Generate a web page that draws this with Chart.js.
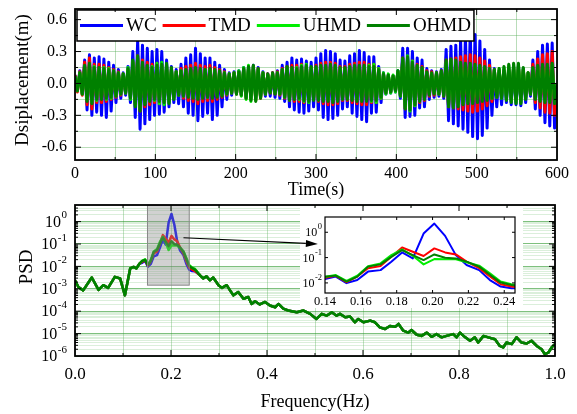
<!DOCTYPE html>
<html><head><meta charset="utf-8">
<script src="https://cdn.jsdelivr.net/npm/chart.js@4.4.1/dist/chart.umd.min.js"></script>
<style>
html,body{margin:0;padding:0;background:#fff;}
body{position:relative;width:577px;height:414px;overflow:hidden;}
canvas{position:absolute;display:block;}
</style></head><body>
<canvas id="top" width="577" height="200" style="left:0;top:0;width:577px;height:200px"></canvas>
<canvas id="psd" width="577" height="214" style="left:0;top:200px;width:577px;height:214px"></canvas>
<canvas id="inset" width="223" height="101" style="left:300px;top:207px;width:223px;height:101px"></canvas>
<script>
const SERIF = '"Liberation Serif","Times New Roman",serif';
Chart.defaults.font.family = SERIF;
Chart.defaults.color = '#000';

// ---------------- series ----------------
const seriesNames = ['WC', 'TMD', 'UHMD', 'OHMD'];
const seriesColors = ['#0000ff', '#ff0000', '#00ee00', '#008000'];

// ---------------- top chart: displacement time history ----------------
const cyclePeriod = 6;          // s, one oscillation per entry below
const timeEnd = 600;
const timeTicks = [0, 50, 100, 150, 200, 250, 300, 350, 400, 450, 500, 550, 600];
const timeLabelStep = 100;
const dispTicks = [-0.6, -0.45, -0.3, -0.15, 0, 0.15, 0.3, 0.45, 0.6];
const dispLabelStep = 0.3;

// positive peaks / negative trough magnitudes per cycle (m)
const wcUp = [
 .08,.12,.22,.27,.24,.25,.23,.20,.17,.13,
 .10,.16,.30,.40,.36,.33,.30,.32,.30,.22,
 .16,.13,.18,.24,.27,.33,.28,.24,.24,.20,
 .17,.13,.10,.11,.12,.15,.16,.17,.15,.11,
 .09,.10,.12,.17,.20,.24,.22,.23,.21,.20,
 .24,.28,.31,.30,.28,.22,.21,.26,.28,.31,
 .29,.25,.25,.16,.10,.08,.07,.12,.33,.33,
 .30,.24,.22,.14,.12,.11,.13,.32,.35,.36,
 .40,.44,.48,.46,.40,.32,.22,.14,.12,.12,
 .15,.16,.17,.14,.10,.22,.30,.36,.37,.38];
const wcDown = [
 .07,.10,.25,.30,.27,.30,.32,.26,.18,.14,
 .11,.18,.32,.43,.38,.34,.30,.29,.27,.22,
 .18,.19,.22,.28,.30,.35,.31,.28,.34,.30,
 .22,.15,.11,.10,.11,.13,.14,.14,.13,.12,
 .12,.13,.14,.17,.22,.25,.27,.28,.26,.22,
 .25,.32,.34,.33,.30,.24,.22,.28,.31,.34,
 .36,.28,.27,.18,.10,.09,.08,.14,.32,.31,
 .30,.23,.22,.15,.13,.12,.14,.35,.38,.40,
 .43,.46,.50,.52,.49,.42,.30,.22,.20,.18,
 .20,.20,.21,.18,.12,.24,.30,.37,.40,.42];
const tmdAmp = [
 .08,.11,.20,.24,.18,.18,.17,.15,.13,.11,
 .09,.13,.20,.26,.22,.20,.18,.19,.18,.16,
 .13,.11,.14,.16,.17,.19,.17,.16,.17,.15,
 .13,.11,.09,.10,.11,.14,.15,.16,.14,.10,
 .09,.10,.11,.14,.16,.17,.17,.18,.16,.15,
 .17,.19,.20,.20,.19,.16,.16,.18,.19,.20,
 .20,.18,.18,.14,.09,.08,.07,.11,.24,.23,
 .21,.18,.16,.12,.11,.10,.12,.22,.23,.24,
 .25,.26,.27,.26,.24,.21,.17,.13,.12,.12,
 .14,.15,.16,.13,.10,.18,.23,.27,.28,.30];
const uhmdAmp = [
 .07,.10,.16,.18,.16,.14,.15,.14,.12,.10,
 .09,.15,.21,.24,.19,.16,.16,.19,.20,.18,
 .14,.11,.12,.12,.13,.14,.13,.13,.13,.12,
 .11,.10,.09,.10,.12,.15,.17,.16,.13,.10,
 .08,.09,.10,.13,.15,.14,.15,.17,.18,.15,
 .15,.16,.16,.17,.16,.14,.14,.15,.16,.16,
 .16,.17,.18,.14,.10,.09,.08,.12,.23,.26,
 .21,.16,.14,.10,.09,.10,.11,.20,.22,.21,
 .19,.18,.18,.17,.16,.15,.14,.13,.14,.15,
 .17,.18,.18,.14,.10,.14,.16,.17,.17,.18];
const ohmdAmp = [
 .07,.10,.17,.19,.15,.15,.14,.13,.12,.10,
 .09,.14,.22,.26,.20,.17,.15,.17,.18,.19,
 .15,.11,.12,.13,.14,.15,.14,.13,.14,.13,
 .12,.10,.09,.10,.11,.14,.16,.17,.14,.10,
 .09,.10,.10,.13,.16,.15,.14,.16,.17,.16,
 .16,.17,.17,.18,.17,.15,.15,.16,.17,.17,
 .17,.16,.16,.13,.09,.08,.07,.12,.24,.25,
 .20,.17,.15,.11,.10,.10,.12,.22,.23,.22,
 .20,.19,.19,.18,.17,.16,.14,.13,.14,.16,
 .18,.19,.19,.15,.10,.15,.17,.18,.18,.19];

// ---------------- PSD ----------------
const freqLow = [0, 0.007, 0.017, 0.035, 0.049, 0.059, 0.069, 0.083, 0.094, 0.104, 0.115, 0.122, 0.128, 0.134];
const psdLow  = [2.4e-3, 1.2e-3, 8.5e-4, 3.2e-3, 9e-4, 1.45e-3, 1.1e-3, 3.4e-3, 2.9e-3, 5.1e-4, 8.1e-3, 9.5e-3, 8.1e-3, 1.3e-2];
const freqPeak = [0.140,0.146,0.152,0.158,0.164,0.171,0.177,0.183,0.189,0.195,0.201,0.207,0.213,0.219,0.226,0.232,0.238,0.244,0.250];
const wcPeak   = [1.44e-2,1.77e-2,9.8e-3,1.3e-2,2.8e-2,3.2e-2,6.9e-2,0.16,9.3e-2,0.89,2.2,0.72,0.125,5.1e-2,3.2e-2,1.3e-2,7.2e-3,6.2e-3,6e-3];
const tmdPeak  = [1.6e-2,1.9e-2,1.07e-2,1.78e-2,3.8e-2,4.7e-2,0.107,0.25,0.17,0.115,0.23,0.16,0.133,6.9e-2,3.8e-2,1.8e-2,8.9e-3,7.2e-3,6.2e-3];
const uhmdPeak = [1.77e-2,2.05e-2,1.2e-2,1.94e-2,4.6e-2,5.9e-2,0.125,0.21,0.118,5.4e-2,8.7e-2,8.5e-2,8.5e-2,6.5e-2,4.8e-2,2.4e-2,1.13e-2,8.9e-3,7.7e-3];
const ohmdPeak = [1.77e-2,1.94e-2,1.13e-2,1.77e-2,4.4e-2,5.4e-2,0.107,0.196,0.125,8e-2,0.133,9.8e-2,9.3e-2,6.9e-2,4.4e-2,2.1e-2,1.03e-2,8.3e-3,7.2e-3];
const freqHigh = [0.26,0.267,0.274,0.281,0.288,0.299,0.306,0.316,0.323,0.33,0.34,0.351,0.361,0.368,0.375,0.385,0.396,0.406,0.417,0.424,0.434,0.444,0.462,0.476,0.49,0.503,0.514,0.524,0.535,0.545,0.552,0.563,0.573,0.583,0.59,0.601,0.615,0.625,0.635,0.646,0.656,0.667,0.674,0.684,0.694,0.701,0.712,0.722,0.733,0.743,0.753,0.764,0.774,0.788,0.795,0.802,0.813,0.823,0.833,0.84,0.851,0.861,0.875,0.885,0.892,0.899,0.91,0.92,0.93,0.941,0.951,0.962,0.972,0.979,0.986,0.993,1.0];
const psdHigh  = [4.1e-3,2.9e-3,3.6e-3,2.4e-3,3.2e-3,1.45e-3,1.1e-3,1.45e-3,8.5e-4,5.1e-4,7.2e-4,3.6e-4,4.3e-4,2.1e-4,2.8e-4,2e-4,2.6e-4,1.8e-4,1.5e-4,2.1e-4,1.3e-4,1.07e-4,8.9e-5,1.07e-4,7.6e-5,4.5e-5,7.6e-5,6.3e-5,8.9e-5,6.3e-5,7.6e-5,5.4e-5,5.8e-5,3.2e-5,4.5e-5,3.2e-5,3.8e-5,3.2e-5,1.9e-5,1.6e-5,2.2e-5,2e-5,2.7e-5,1.35e-5,1.1e-5,1.45e-5,8.9e-6,7.9e-6,1.1e-5,7.2e-6,9.5e-6,6.8e-6,7.9e-6,9.5e-6,6.8e-6,1.1e-5,6.8e-6,4.8e-6,6.8e-6,4e-6,7.9e-6,6.8e-6,5.6e-6,2.8e-6,2.4e-6,4e-6,3.4e-6,6.8e-6,4e-6,3.6e-6,4.8e-6,2.8e-6,2e-6,1.2e-6,1.4e-6,2.4e-6,3.4e-6];

const freqTicks = [0,0.1,0.2,0.3,0.4,0.5,0.6,0.7,0.8,0.9,1.0];
const freqLabelStep = 0.2;
const psdDecades = [-6,-5,-4,-3,-2,-1,0];
const psdMin = 1e-6, psdMax = 5.5;
const insetFreqTicks = [0.14,0.16,0.18,0.20,0.22,0.24];
const insetDecades = [-2,-1,0];
const insetFreqMin = 0.14, insetFreqMax = 0.246;
const insetPsdMin = 0.004, insetPsdMax = 4;
const zoomBand = {f0: 0.151, f1: 0.238, p0: 1.45e-3, p1: 5.3};
const arrowFrom = {f: 0.226, p: 0.19};
const arrowTo = {f: 0.506, p: 0.1};

// ---------------- builders ----------------
function isMultiple(v, step) { const r = v / step; return Math.abs(r - Math.round(r)) < 1e-6; }
function oscillation(up, down) {
  const pts = [];
  up.forEach((u, i) => {
    pts.push({x: i * cyclePeriod, y: u});
    pts.push({x: i * cyclePeriod + cyclePeriod / 2, y: -down[i]});
  });
  pts.push({x: timeEnd, y: 0});
  return pts;
}
const dispData = [oscillation(wcUp, wcDown), oscillation(tmdAmp, tmdAmp), oscillation(uhmdAmp, uhmdAmp), oscillation(ohmdAmp, ohmdAmp)];
const psdFreq = freqLow.concat(freqPeak, freqHigh);
const psdValues = [wcPeak, tmdPeak, uhmdPeak, ohmdPeak].map(pk => psdLow.concat(pk, psdHigh));
const psdData = psdValues.map(vals => vals.map((v, i) => ({x: psdFreq[i], y: v})));
function logTicks(decades, max) {
  const out = [];
  decades.forEach(k => { for (let m = 1; m <= 9; m++) { const v = Number((m * Math.pow(10, k)).toPrecision(3)); if (v <= max) out.push(v); } });
  return out;
}
function isDecade(v) { const l = Math.log10(v); return Math.abs(l - Math.round(l)) < 1e-6; }

// ---------------- plugins ----------------
function frameAndTicks(cfg) {
  return { id: 'frameTicks', afterDraw(chart) {
    const ctx = chart.ctx, a = chart.chartArea, xs = chart.scales.x, ys = chart.scales.y;
    ctx.save();
    ctx.strokeStyle = '#000'; ctx.lineWidth = 1;
    ctx.beginPath();
    xs.ticks.forEach(t => {
      const L = cfg.xMajor(t.value) ? cfg.major : cfg.minor; if (!L) return;
      const p = xs.getPixelForValue(t.value); if (p <= a.left + 1 || p >= a.right - 1) return;
      ctx.moveTo(p, a.bottom); ctx.lineTo(p, a.bottom - L);
      ctx.moveTo(p, a.top); ctx.lineTo(p, a.top + L);
    });
    ys.ticks.forEach(t => {
      const L = cfg.yMajor(t.value) ? cfg.major : cfg.minor; if (!L) return;
      const p = ys.getPixelForValue(t.value); if (p <= a.top + 1 || p >= a.bottom - 1) return;
      ctx.moveTo(a.left, p); ctx.lineTo(a.left + L, p);
      ctx.moveTo(a.right, p); ctx.lineTo(a.right - L, p);
    });
    ctx.stroke();
    ctx.lineWidth = cfg.frame;
    ctx.strokeRect(a.left, a.top, a.right - a.left, a.bottom - a.top);
    ctx.fillStyle = '#000';
    if (cfg.log) {
      const L = cfg.log;
      L.exps.forEach(k => {
        const p = ys.getPixelForValue(Math.pow(10, k));
        const e = String(k);
        ctx.font = L.expSize + 'px ' + SERIF; const ew = ctx.measureText(e).width;
        ctx.font = L.baseSize + 'px ' + SERIF; const bw = ctx.measureText('10').width;
        const r = a.left - L.gap;
        ctx.textAlign = 'left'; ctx.textBaseline = 'middle';
        ctx.fillText('10', r - ew - bw - 0.5, p + L.baseDy);
        ctx.font = L.expSize + 'px ' + SERIF;
        ctx.fillText(e, r - ew, p - L.rise);
      });
    }
    (cfg.titles || []).forEach(T => {
      ctx.save(); ctx.translate(T.x, T.y); if (T.rot) ctx.rotate(T.rot);
      ctx.font = T.size + 'px ' + SERIF; ctx.textAlign = 'center'; ctx.textBaseline = 'middle';
      ctx.fillText(T.text, 0, 0); ctx.restore();
    });
    ctx.restore();
  }};
}
function boxLegend(cfg) {
  return { id: 'boxLegend', afterDatasetsDraw(chart) {
    const ctx = chart.ctx; ctx.save();
    ctx.font = cfg.size + 'px ' + SERIF;
    let x = cfg.left + cfg.pad; const items = [];
    seriesNames.forEach((n, i) => { const tw = ctx.measureText(n).width; items.push({n, i, x, tw}); x += cfg.line + cfg.gap1 + tw + cfg.gap2; });
    const right = x - cfg.gap2 + cfg.pad;
    ctx.fillStyle = '#fff'; ctx.fillRect(cfg.left, cfg.top, right - cfg.left, cfg.h);
    ctx.lineWidth = 1.5; ctx.strokeStyle = '#000'; ctx.strokeRect(cfg.left, cfg.top, right - cfg.left, cfg.h);
    const ym = cfg.top + cfg.h / 2;
    items.forEach(it => {
      ctx.strokeStyle = seriesColors[it.i]; ctx.lineWidth = 3;
      ctx.beginPath(); ctx.moveTo(it.x, ym); ctx.lineTo(it.x + cfg.line, ym); ctx.stroke();
      ctx.fillStyle = '#000'; ctx.textAlign = 'left'; ctx.textBaseline = 'middle';
      ctx.fillText(it.n, it.x + cfg.line + cfg.gap1, ym + 1);
    });
    ctx.restore();
  }};
}
function psdOverlay(cfg) {
  return { id: 'psdOverlay', afterDatasetsDraw(chart) {
    const ctx = chart.ctx, xs = chart.scales.x, ys = chart.scales.y;
    ctx.save();
    const x0 = xs.getPixelForValue(zoomBand.f0), x1 = xs.getPixelForValue(zoomBand.f1);
    const y0 = ys.getPixelForValue(zoomBand.p0), y1 = Math.max(ys.getPixelForValue(zoomBand.p1), chart.chartArea.top);
    ctx.fillStyle = 'rgba(140,140,140,0.4)'; ctx.fillRect(x0, y1, x1 - x0, y0 - y1);
    ctx.strokeStyle = '#888'; ctx.lineWidth = 1; ctx.strokeRect(x0, y1, x1 - x0, y0 - y1);
    const b = cfg.backdrop;
    ctx.fillStyle = '#fff'; ctx.fillRect(b.x, b.y, b.w, b.h);
    const ax0 = xs.getPixelForValue(arrowFrom.f), ay0 = ys.getPixelForValue(arrowFrom.p);
    const ax1 = xs.getPixelForValue(arrowTo.f), ay1 = ys.getPixelForValue(arrowTo.p);
    const ang = Math.atan2(ay1 - ay0, ax1 - ax0), hl = 12, hw = 3.5;
    const bx = ax1 - hl * Math.cos(ang), by = ay1 - hl * Math.sin(ang);
    ctx.strokeStyle = '#000'; ctx.lineWidth = 1.2;
    ctx.beginPath(); ctx.moveTo(ax0, ay0); ctx.lineTo(bx, by); ctx.stroke();
    ctx.fillStyle = '#000'; ctx.beginPath();
    ctx.moveTo(ax1, ay1);
    ctx.lineTo(bx + hw * Math.sin(ang), by - hw * Math.cos(ang));
    ctx.lineTo(bx - hw * Math.sin(ang), by + hw * Math.cos(ang));
    ctx.closePath(); ctx.fill();
    ctx.restore();
  }};
}

const noPad = s => { s.paddingLeft = 0; s.paddingRight = 0; s.paddingTop = 0; s.paddingBottom = 0; };
const commonOpts = { responsive: false, animation: false, events: [], maintainAspectRatio: false };

// ---------------- top chart ----------------
new Chart(document.getElementById('top'), {
  type: 'line',
  data: { datasets: seriesNames.map((n, i) => ({
    label: n, data: dispData[i], borderColor: seriesColors[i], backgroundColor: seriesColors[i],
    borderWidth: 3, pointRadius: 0, tension: 0, order: 4 - i, borderJoinStyle: 'round' })) },
  options: Object.assign({}, commonOpts, {
    layout: { padding: { left: 0, right: 20, top: 9, bottom: 0 } },
    plugins: { legend: { display: false }, tooltip: { enabled: false } },
    scales: {
      x: { type: 'linear', min: 0, max: timeEnd,
        afterBuildTicks: s => { s.ticks = timeTicks.map(v => ({value: v})); },
        afterFit: s => { s.height = 40; noPad(s); },
        ticks: { autoSkip: false, maxRotation: 0, padding: 4, font: { size: 16 },
          callback: v => isMultiple(v, timeLabelStep) ? String(v) : '' },
        grid: { color: 'rgba(80,170,80,0.4)', drawTicks: false }, border: { display: false } },
      y: { type: 'linear', min: -0.72, max: 0.7,
        afterBuildTicks: s => { s.ticks = dispTicks.map(v => ({value: v})); },
        afterFit: s => { s.width = 75; noPad(s); },
        ticks: { autoSkip: false, padding: 8, font: { size: 16 },
          callback: v => isMultiple(v, dispLabelStep) ? v.toFixed(1) : '' },
        grid: { color: 'rgba(80,170,80,0.4)', drawTicks: false }, border: { display: false } }
    }
  }),
  plugins: [
    boxLegend({ left: 77, top: 10, h: 31, pad: 3, line: 43, gap1: 3, gap2: 6, size: 19 }),
    frameAndTicks({ major: 6, minor: 3, frame: 1.8,
      xMajor: v => isMultiple(v, timeLabelStep), yMajor: v => isMultiple(v, dispLabelStep),
      titles: [ { text: 'Dsiplacement(m)', x: 23, y: 80, rot: -Math.PI / 2, size: 19 },
                { text: 'Time(s)', x: 316, y: 190, size: 18 } ] })
  ]
});

// ---------------- PSD chart ----------------
const psdTickVals = logTicks(psdDecades, psdMax);
new Chart(document.getElementById('psd'), {
  type: 'line',
  data: { datasets: seriesNames.map((n, i) => ({
    label: n, data: psdData[i], borderColor: seriesColors[i], backgroundColor: seriesColors[i],
    borderWidth: 2.5, pointRadius: 0, tension: 0, order: 4 - i, borderJoinStyle: 'round' })) },
  options: Object.assign({}, commonOpts, {
    layout: { padding: { left: 0, right: 22, top: 5, bottom: 0 } },
    plugins: { legend: { display: false }, tooltip: { enabled: false } },
    scales: {
      x: { type: 'linear', min: 0, max: 1,
        afterBuildTicks: s => { s.ticks = freqTicks.map(v => ({value: v})); },
        afterFit: s => { s.height = 58; noPad(s); },
        ticks: { autoSkip: false, maxRotation: 0, padding: 8, font: { size: 17 },
          callback: v => isMultiple(v, freqLabelStep) ? v.toFixed(1) : '' },
        grid: { color: 'rgba(80,170,80,0.35)', drawTicks: false }, border: { display: false } },
      y: { type: 'logarithmic', min: psdMin, max: psdMax,
        afterBuildTicks: s => { s.ticks = psdTickVals.map(v => ({value: v})); },
        afterFit: s => { s.width = 75; noPad(s); },
        ticks: { autoSkip: false, callback: () => '' },
        grid: { color: c => (c.tick && isDecade(c.tick.value)) ? 'rgba(40,150,40,0.6)' : 'rgba(90,180,90,0.22)', drawTicks: false },
        border: { display: false } }
    }
  }),
  plugins: [
    psdOverlay({ backdrop: { x: 300, y: 7, w: 223, h: 101 } }),
    frameAndTicks({ major: 6, minor: 3, frame: 1.8,
      xMajor: v => isMultiple(v, freqLabelStep), yMajor: v => isDecade(v),
      log: { exps: psdDecades, baseSize: 16, expSize: 11, gap: 8, rise: 6, baseDy: 1 },
      titles: [ { text: 'PSD', x: 27, y: 67, rot: -Math.PI / 2, size: 19 },
                { text: 'Frequency(Hz)', x: 315, y: 202, size: 18 } ] })
  ]
});

// ---------------- inset ----------------
new Chart(document.getElementById('inset'), {
  type: 'line',
  data: { datasets: seriesNames.map((n, i) => ({
    label: n, data: psdData[i], borderColor: seriesColors[i], backgroundColor: seriesColors[i],
    borderWidth: 2, pointRadius: 0, tension: 0, order: 4 - i, borderJoinStyle: 'round' })) },
  options: Object.assign({}, commonOpts, {
    layout: { padding: { left: 0, right: 8, top: 10, bottom: 0 } },
    plugins: { legend: { display: false }, tooltip: { enabled: false } },
    scales: {
      x: { type: 'linear', min: insetFreqMin, max: insetFreqMax,
        afterBuildTicks: s => { s.ticks = insetFreqTicks.map(v => ({value: v})); },
        afterFit: s => { s.height = 15; noPad(s); },
        ticks: { autoSkip: false, maxRotation: 0, padding: 1, font: { size: 12.5 }, callback: v => v.toFixed(2) },
        grid: { display: false, drawTicks: false }, border: { display: false } },
      y: { type: 'logarithmic', min: insetPsdMin, max: insetPsdMax,
        afterBuildTicks: s => { s.ticks = insetDecades.map(k => ({value: Math.pow(10, k)})); },
        afterFit: s => { s.width = 25; noPad(s); },
        ticks: { autoSkip: false, callback: () => '' },
        grid: { display: false, drawTicks: false }, border: { display: false } }
    }
  }),
  plugins: [
    frameAndTicks({ major: 3, minor: 0, frame: 1.2, xMajor: () => true, yMajor: () => true,
      log: { exps: insetDecades, baseSize: 12, expSize: 8.5, gap: 3, rise: 5, baseDy: 1 } })
  ]
});
</script></body></html>
